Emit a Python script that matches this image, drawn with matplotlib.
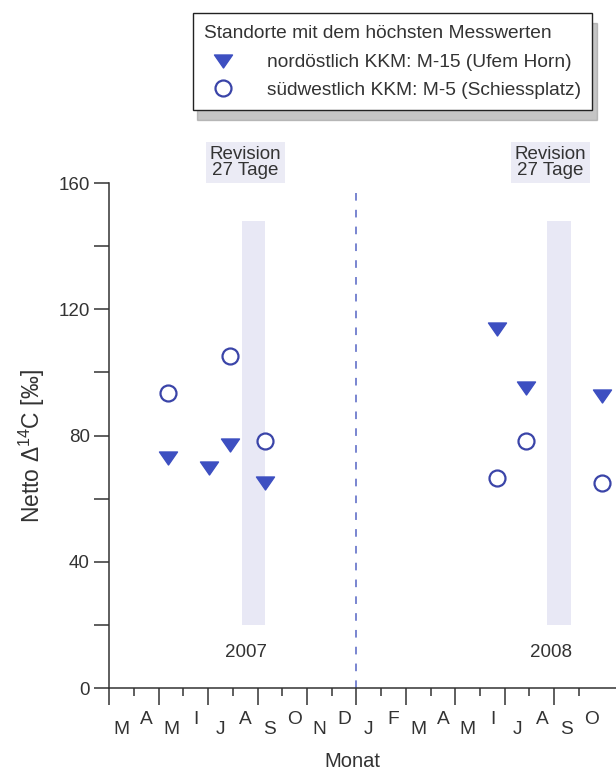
import numpy as np
import matplotlib.pyplot as plt
from matplotlib.path import Path
import matplotlib.transforms as mtransforms

plt.rcParams['font.family'] = ['Liberation Sans', 'DejaVu Sans']
plt.rcParams['mathtext.fontset'] = 'custom'
plt.rcParams['mathtext.rm'] = 'Liberation Sans'
plt.rcParams['mathtext.it'] = 'Liberation Sans'

# Monate (März 2007 bis Oktober 2008), x = Monatsindex
monate = ['M', 'A', 'M', 'I', 'J', 'A', 'S', 'O', 'N', 'D',
          'J', 'F', 'M', 'A', 'M', 'I', 'J', 'A', 'S', 'O']
jahre = ['2007', '2008']
jahr_x = [5.54, 17.87]

# Messwerte
nord_x = [2.38, 4.02, 4.90, 6.32, 15.67, 16.84, 19.92]
nord_y = [73.0, 69.8, 77.0, 64.8, 113.6, 95.0, 92.4]
sued_x = [2.38, 4.90, 6.32, 15.67, 16.84, 19.92]
sued_y = [93.5, 105.3, 78.4, 66.6, 78.4, 64.8]

# Revisionen (27 Tage)
rev_start = [5.37, 17.72]
rev_end = [6.32, 18.66]

txt = '#333333'
blau = '#3d4fc1'
blau2 = '#3a44a8'

fig = plt.figure(figsize=(6.16, 7.69), dpi=100)
ax = fig.add_axes([0.1774, 0.1053, 0.8226, 0.6567])

for a, b in zip(rev_start, rev_end):
    ax.fill_between([a, b], 20, 148, color='#e8e8f5', lw=0, zorder=0)
    ax.text((a + b) / 2 - 0.35, 166.5, 'Revision\n27 Tage', ha='center', va='center',
            fontsize=13.5, color=txt, linespacing=0.95, clip_on=False,
            bbox=dict(boxstyle='square,pad=0.2', fc='#ebebf5', ec='none'))

ax.plot([10, 10], [0, 158], color='#5565c4', lw=1.1, dashes=(5, 6), zorder=1)

tri = Path([(-1, 0.72), (1, 0.72), (0, -0.72), (-1, 0.72)],
           [Path.MOVETO, Path.LINETO, Path.LINETO, Path.CLOSEPOLY])
ax.plot(nord_x, nord_y, ls='none', marker=tri, ms=13, color=blau, mec=blau,
        label='nordöstlich KKM: M-15 (Ufem Horn)', clip_on=False, zorder=3)
ax.plot(sued_x, sued_y, ls='none', marker='o', ms=11.5, mfc='white', mec=blau2,
        mew=1.6, label='südwestlich KKM: M-5 (Schiessplatz)',
        clip_on=False, zorder=3)

for x, j in zip(jahr_x, jahre):
    ax.text(x, 11.4, j, ha='center', va='center', fontsize=13.5, color=txt)

ax.set_xlim(0, 20.5)
ax.set_ylim(0, 160)
ax.spines['top'].set_visible(False)
ax.spines['right'].set_visible(False)
for s in ['left', 'bottom']:
    ax.spines[s].set_color(txt)
    ax.spines[s].set_linewidth(1.1)

ax.set_yticks([0, 40, 80, 120, 160])
ax.set_yticks([20, 60, 100, 140], minor=True)
ax.tick_params(axis='y', which='both', length=11, width=1.1, color=txt,
               labelsize=13.5, labelcolor=txt, pad=3)

ax.set_xticks(np.arange(0, 20, 2))
ax.set_xticks(np.arange(1, 20, 2), minor=True)
ax.set_xticklabels([])
ax.tick_params(axis='x', which='major', length=12, width=1.1, color=txt)
ax.tick_params(axis='x', which='minor', length=6, width=1.1, color=txt)

trans = mtransforms.blended_transform_factory(ax.transData, ax.transAxes)
for i, m in enumerate(monate):
    off = -30 if i % 2 == 0 else -23
    ax.annotate(m, xy=(i + 0.5, 0), xycoords=trans, xytext=(0, off),
                textcoords='offset points', ha='center', va='center',
                fontsize=13.8, color=txt)

ax.set_xlabel('Monat', fontsize=14.5, color=txt, va='center')
ax.xaxis.set_label_coords(0.479, -0.1446)
ax.set_ylabel('Netto Δ$^{14}$C [‰]', fontsize=16.5, color=txt, va='center')
ax.yaxis.set_label_coords(-0.152, 0.48)

leg = fig.legend(loc='upper left', bbox_to_anchor=(0.313, 0.983),
                 title='Standorte mit dem höchsten Messwerten', alignment='left',
                 fontsize=13.8, title_fontsize=13.8, frameon=True, fancybox=False,
                 shadow={'color': '0.55', 'alpha': 0.5, 'ox': 3, 'oy': -7},
                 borderpad=0.6, handletextpad=1.26, handlelength=2.0,
                 labelspacing=0.52, borderaxespad=0)
leg.get_frame().set_edgecolor('#222222')
leg.get_frame().set_linewidth(1.0)
for t in leg.get_texts():
    t.set_color(txt)
leg.get_title().set_color(txt)
leg._legend_box.sep = 9

plt.savefig('out.png', dpi=100)
